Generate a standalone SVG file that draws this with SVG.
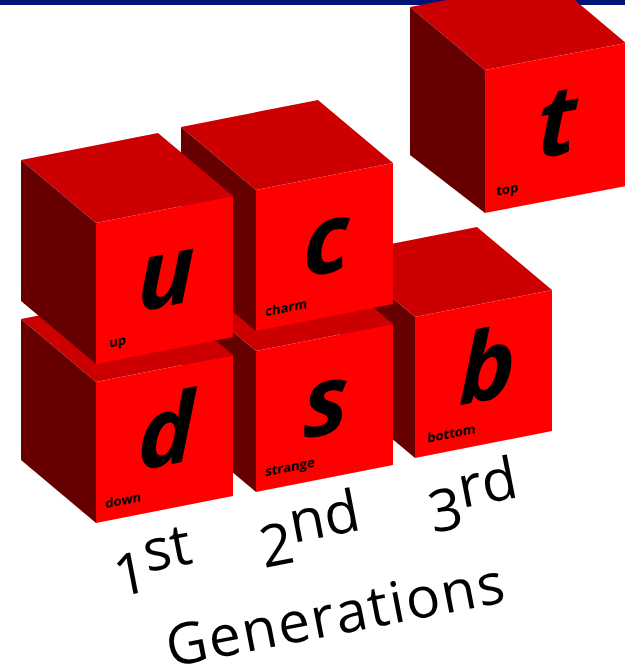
<svg xmlns="http://www.w3.org/2000/svg" xmlns:xlink="http://www.w3.org/1999/xlink" width="625" height="672" viewBox="0 0 625 672">
  <style>
    .front { fill: #FF0000; }
    .top { fill: #CC0000; }
    .side { fill: #660000; }
    .big { font-family: "Open Sans", "DejaVu Sans", sans-serif; font-weight: bold; font-style: italic; font-size: 96px; fill: #000; text-anchor: middle; }
    .small { font-family: "Open Sans", "DejaVu Sans", sans-serif; font-weight: bold; font-size: 13px; fill: #000; }
    .gen { font-family: "Open Sans", "DejaVu Sans", sans-serif; font-size: 58px; fill: #000; }
    .title { font-size: 57px; letter-spacing: 1.7px; }
  </style>
  <defs>
    <!-- one cube, origin at the front-top-left corner -->
    <g id="cube">
      <polygon class="top" points="-75,-63 62,-90 137,-27 0,0"/>
      <polygon class="side" points="-75,-63 0,0 0,141 -75,78"/>
      <polygon class="front" points="0,0 137,-27 137,114 0,141"/>
    </g>
  </defs>

  <rect id="title-bar" x="0" y="0" width="625" height="5" fill="#001478"/>

  <!-- third generation, bottom -->
  <g id="cube-b" transform="translate(415,317)">
    <use xlink:href="#cube"/>
    <g transform="skewY(-11.15)">
      <text class="big" x="72" y="97">b</text>
      <text class="small" x="12" y="128">bottom</text>
    </g>
  </g>

  <!-- second generation, strange -->
  <g id="cube-s" transform="translate(256,351)">
    <use xlink:href="#cube"/>
    <g transform="skewY(-11.15)">
      <text class="big" x="70" y="97">s</text>
      <text class="small" x="9" y="127">strange</text>
    </g>
  </g>

  <!-- first generation, down -->
  <g id="cube-d" transform="translate(96,382)">
    <use xlink:href="#cube"/>
    <g transform="skewY(-11.15)">
      <text class="big" x="70" y="97">d</text>
      <text class="small" x="9" y="128">down</text>
    </g>
  </g>

  <!-- second generation, charm -->
  <g id="cube-c" transform="translate(256,190)">
    <use xlink:href="#cube"/>
    <g transform="skewY(-11.15)">
      <text class="big" x="70" y="97">c</text>
      <text class="small" x="9" y="128">charm</text>
    </g>
  </g>

  <!-- first generation, up -->
  <g id="cube-u" transform="translate(96,223)">
    <use xlink:href="#cube"/>
    <g transform="skewY(-11.15)">
      <text class="big" x="70" y="97">u</text>
      <text class="small" x="13" y="127">up</text>
    </g>
  </g>

  <!-- third generation, top -->
  <g id="cube-t" transform="translate(485,70)">
    <polygon class="top" points="-75,-63 66,-90 141,-27 0,0"/>
    <polygon class="side" points="-75,-63 0,0 0,143 -75,85"/>
    <polygon class="front" points="0,0 141,-27 141,116 0,143"/>
    <g transform="skewY(-11.15)">
      <text class="big" x="72" y="99">t</text>
      <text class="small" x="11" y="128">top</text>
    </g>
  </g>

  <!-- generation labels -->
  <g id="labels">
    <text class="gen" transform="translate(118,597) rotate(-11)">1<tspan dy="-19">st</tspan></text>
    <text class="gen" transform="translate(264,568) rotate(-11)">2<tspan dy="-19">nd</tspan></text>
    <text class="gen" transform="translate(433,533) rotate(-11)">3<tspan dy="-19">rd</tspan></text>
    <text class="gen title" transform="translate(170,667) rotate(-11)">Generations</text>
  </g>
</svg>
